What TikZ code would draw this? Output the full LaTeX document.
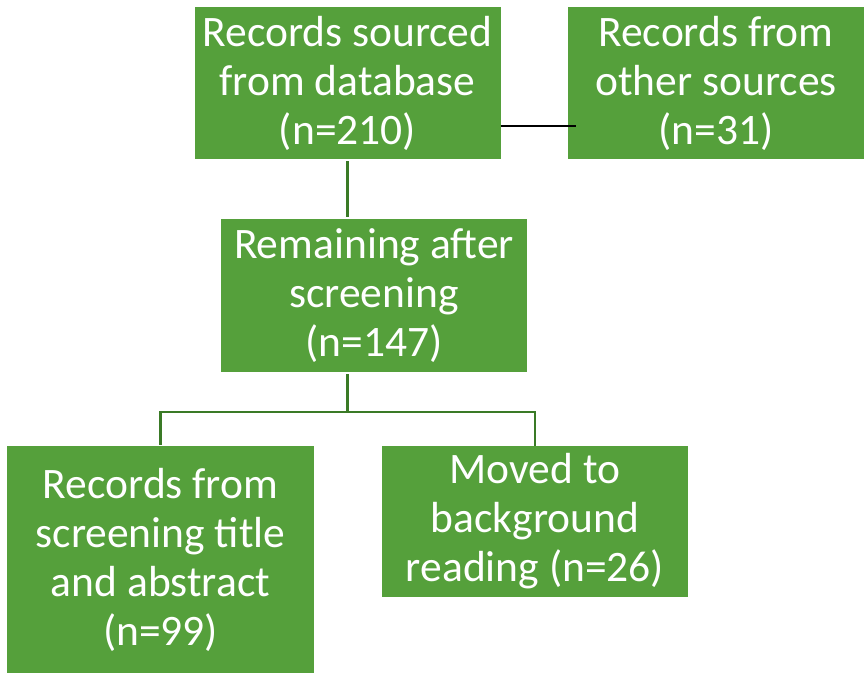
\documentclass[tikz,border=0pt]{standalone}
\usepackage{fontspec}
\setmainfont{Carlito}
\definecolor{boxgreen}{HTML}{55A03B}
\definecolor{linegreen}{HTML}{3A7A26}

\begin{document}
\begin{tikzpicture}[x=1pt,y=1pt,
  box/.style={fill=boxgreen,text=white,inner sep=0pt,align=center,
    font=\fontsize{43.5}{49}\selectfont},
  tree/.style={draw=linegreen,line width=2.2pt},
  link/.style={draw=black,line width=1.4pt}]
\useasboundingbox (0,0) rectangle (864,-673);

\node[box,minimum width=306,minimum height=152] (db) at (347.5,-83) {Records sourced\\from database\\(n=210)};
\node[box,minimum width=296,minimum height=152] (other) at (716,-83) {Records from\\other sources\\(n=31)};
\node[box,minimum width=306,minimum height=153] (rem) at (374,-295.5) {Remaining after\\screening\\(n=147)};
\node[box,minimum width=307,minimum height=227] (abs) at (160.5,-559.5) {Records from\\screening title\\and abstract\\(n=99)};
\node[box,minimum width=306,minimum height=151] (bg) at (535,-521.5) {Moved to\\background\\reading (n=26)};

\coordinate (split) at (347.5,-412);

\draw[link] ([yshift=-43]db.east) -- ([xshift=8,yshift=-43]other.west);
\draw[tree,shorten <=2,shorten >=2] (db.south) -- (db.south |- rem.north);
\draw[tree,shorten <=2] (db.south |- rem.south) -- (split);
\draw[tree,shorten <=1] (abs.north) |- (split) -| (bg.north);

\end{tikzpicture}
\end{document}
